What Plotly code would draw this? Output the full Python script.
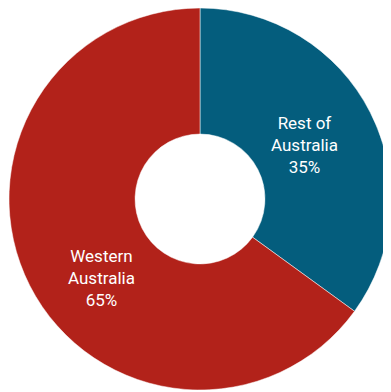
import plotly.graph_objects as go

# share of the total, in percent
labels = ['Rest of<br>Australia', 'Western<br>Australia']
shares = [35, 65]
colours = ['#045d7d', '#b2221a']
# where each label sits, as a fraction of the figure (x from left, y from bottom)
label_x = [0.773, 0.243]
label_y = [0.642, 0.298]

# the page body adds an 8px margin, so the figure is made a little smaller
W, H = 383, 384

fig = go.Figure()
fig.add_trace(go.Pie(
    labels=labels,
    values=shares,
    hole=0.34,
    sort=False,
    direction='clockwise',
    rotation=0,
    marker=dict(colors=colours, line=dict(color='white', width=0.5)),
    textinfo='none',
    hoverinfo='skip',
    domain=dict(x=[1 / W, 1], y=[2 / H, 1]),
    showlegend=False,
))
for lab, pct, x, y in zip(labels, shares, label_x, label_y):
    fig.add_annotation(x=x, y=y, xref='paper', yref='paper', showarrow=False,
                       xanchor='center', yanchor='middle',
                       text=f'{lab}<br>{pct}%',
                       font=dict(family='Roboto, Arial', size=17, color='white'))
fig.update_layout(
    width=W, height=H,
    margin=dict(l=0, r=0, t=0, b=0),
    paper_bgcolor='white',
)
fig.write_html('out.html')
